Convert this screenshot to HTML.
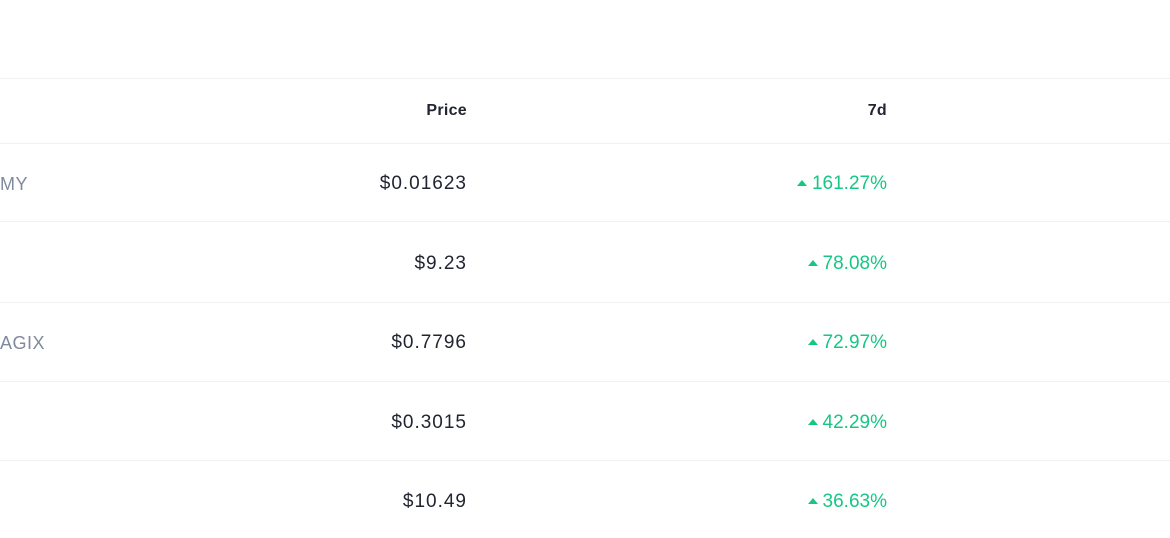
<!DOCTYPE html>
<html><head><meta charset="utf-8"><style>
body{margin:0;width:1170px;height:538px;background:#fff;font-family:"Liberation Sans",sans-serif;position:relative;overflow:hidden}
.line{position:absolute;left:0;width:1170px;height:1px;background:#eff2f5}
.t{position:absolute;line-height:20px;white-space:nowrap}
.hd{font-weight:bold;font-size:16px;color:#222531;top:101px;letter-spacing:0.3px}
.pr{right:704px;font-size:19px;color:#222531;letter-spacing:1px;margin-right:-1px}
.ch{right:283px;font-size:19px;color:#16c784}
.ch:before{content:"";display:inline-block;width:0;height:0;border-left:5.5px solid transparent;border-right:5.5px solid transparent;border-bottom:6px solid #16c784;margin-right:5px;vertical-align:3px}
.nm{left:0;font-size:18px;color:#808a9d;letter-spacing:0.5px}
</style></head><body>
<div class="line" style="top:78px"></div>
<div class="t hd" style="right:703px">Price</div>
<div class="t hd" style="right:283px">7d</div>
<div class="line" style="top:143px"></div>
<script>
const names=["MY","","AGIX","",""];
const prices=["$0.01623","$9.23","$0.7796","$0.3015","$10.49"];
const changes=["161.27%","78.08%","72.97%","42.29%","36.63%"];
const tops=[174,254,333,413,492];
const lines=[221,302,381,460];
prices.forEach((p,i)=>{
 const y=tops[i];
 if(names[i]){const n=document.createElement('div');n.className='t nm';n.style.top=y+'px';n.textContent=names[i];
 
 
 document.body.appendChild(n);}
 const a=document.createElement('div');a.className='t pr';a.style.top=y+'px';a.textContent=p;
 
 
 document.body.appendChild(a);
 const c=document.createElement('div');c.className='t ch';c.style.top=y+'px';c.textContent=changes[i];
 
 
 document.body.appendChild(c);
 if(i<lines.length){const l=document.createElement('div');l.className='line';l.style.top=lines[i]+'px';
 
 
 document.body.appendChild(l);}
});
</script>
</body></html>
